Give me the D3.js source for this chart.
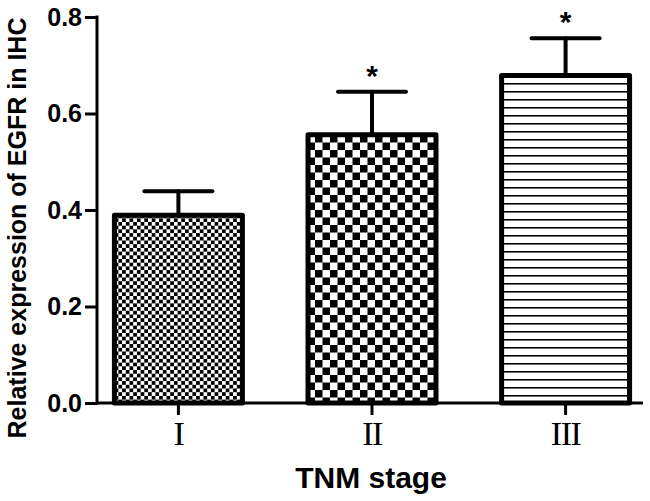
<!DOCTYPE html>
<html>
<head>
<meta charset="utf-8">
<script src="https://cdn.jsdelivr.net/npm/d3@7"></script>
<style>
  body { margin: 0; background: #fff; }
  svg { display: block; }
</style>
</head>
<body>
<div id="chart"></div>
<script>
// Data
const stages = ["I", "II", "III"];
const means = [0.389, 0.556, 0.679];
const errors = [0.050, 0.089, 0.077];
const significant = [false, true, true];
const yTicks = [0.0, 0.2, 0.4, 0.6, 0.8];

const width = 650, height = 501;

const svg = d3.select("#chart")
    .append("svg")
    .attr("width", width)
    .attr("height", height);

const defs = svg.append("defs");

// fine checkerboard (stage I)
const p1 = defs.append("pattern")
    .attr("id", "fineCheck")
    .attr("patternUnits", "userSpaceOnUse")
    .attr("width", 7.4).attr("height", 7.4);
p1.append("rect").attr("width", 7.4).attr("height", 7.4).attr("fill", "#fff");
p1.append("rect").attr("width", 3.7).attr("height", 3.7).attr("fill", "#000");
p1.append("rect").attr("x", 3.7).attr("y", 3.7).attr("width", 3.7).attr("height", 3.7).attr("fill", "#000");

// coarse checkerboard (stage II)
const p2 = defs.append("pattern")
    .attr("id", "coarseCheck")
    .attr("patternUnits", "userSpaceOnUse")
    .attr("width", 15).attr("height", 15);
p2.append("rect").attr("width", 15).attr("height", 15).attr("fill", "#fff");
p2.append("rect").attr("width", 7.5).attr("height", 7.5).attr("fill", "#000");
p2.append("rect").attr("x", 7.5).attr("y", 7.5).attr("width", 7.5).attr("height", 7.5).attr("fill", "#000");

// horizontal lines (stage III)
const p3 = defs.append("pattern")
    .attr("id", "hLines")
    .attr("patternUnits", "userSpaceOnUse")
    .attr("width", 8).attr("height", 8);
p3.append("rect").attr("width", 8).attr("height", 8).attr("fill", "#fff");
p3.append("rect").attr("y", 3).attr("width", 8).attr("height", 1.6).attr("fill", "#000");

const fills = ["url(#fineCheck)", "url(#coarseCheck)", "url(#hLines)"];

// Scales
const x = d3.scaleBand()
    .domain(stages)
    .range([97, 647])
    .paddingInner(0.339)
    .paddingOuter(0.09);

const y = d3.scaleLinear()
    .domain([0, 0.8])
    .range([403, 17]);

// Bars
svg.append("g")
    .selectAll("rect")
    .data(stages)
    .join("rect")
    .attr("x", d => x(d))
    .attr("width", x.bandwidth())
    .attr("y", (d, i) => y(means[i]))
    .attr("height", (d, i) => y(0) - y(means[i]))
    .attr("fill", (d, i) => fills[i])
    .attr("stroke", "#000")
    .attr("stroke-width", 5)
    .attr("stroke-linejoin", "round");

// Error bars
const err = svg.append("g")
    .attr("stroke", "#000")
    .attr("stroke-width", 4)
    .attr("stroke-linecap", "round");

stages.forEach((s, i) => {
    const cx = x(s) + x.bandwidth() / 2;
    err.append("line")
        .attr("x1", cx).attr("x2", cx)
        .attr("y1", y(means[i]) - 2)
        .attr("y2", y(means[i] + errors[i]));
    err.append("line")
        .attr("x1", cx - 34).attr("x2", cx + 34)
        .attr("y1", y(means[i] + errors[i]))
        .attr("y2", y(means[i] + errors[i]));
    if (significant[i]) {
        svg.append("text")
            .attr("x", cx)
            .attr("y", y(means[i] + errors[i]) - 6)
            .attr("text-anchor", "middle")
            .style("font-family", "'Liberation Sans', Arial, sans-serif")
            .style("font-weight", "bold")
            .style("font-size", "30px")
            .text("*");
    }
});

// Y axis
const yAxis = svg.append("g")
    .attr("transform", "translate(97,0)")
    .call(d3.axisLeft(y).tickValues(yTicks).tickFormat(d3.format(".1f")).tickSize(12).tickPadding(3));
yAxis.select(".domain").remove();
yAxis.selectAll(".tick line").attr("stroke", "#000").attr("stroke-width", 3);
yAxis.selectAll(".tick text")
    .attr("fill", "#000")
    .style("font-family", "'Liberation Sans', Arial, sans-serif")
    .style("font-weight", "bold")
    .style("font-size", "25px");

// X axis
const xAxis = svg.append("g")
    .attr("transform", "translate(0,403)")
    .call(d3.axisBottom(x).tickSize(12).tickPadding(6));
xAxis.select(".domain").remove();
xAxis.selectAll(".tick line").attr("stroke", "#000").attr("stroke-width", 3);
xAxis.selectAll(".tick text")
    .attr("fill", "#000")
    .style("font-family", "'Liberation Serif', 'Times New Roman', serif")
    .style("font-size", "34px")
    .style("letter-spacing", "-1.5px");

// Axis lines
svg.append("line")
    .attr("x1", 97).attr("x2", 97)
    .attr("y1", y(0.8) - 1.5).attr("y2", y(0) + 1.5)
    .attr("stroke", "#000").attr("stroke-width", 3);
svg.append("line")
    .attr("x1", 97).attr("x2", 643)
    .attr("y1", y(0)).attr("y2", y(0))
    .attr("stroke", "#000").attr("stroke-width", 3);

// Axis titles
svg.append("text")
    .attr("transform", "translate(26,228) rotate(-90)")
    .attr("text-anchor", "middle")
    .style("font-family", "'Liberation Sans', Arial, sans-serif")
    .style("font-weight", "bold")
    .style("font-size", "25px")
    .text("Relative expression of EGFR in IHC");

svg.append("text")
    .attr("x", 371)
    .attr("y", 488)
    .attr("text-anchor", "middle")
    .style("font-family", "'Liberation Sans', Arial, sans-serif")
    .style("font-weight", "bold")
    .style("font-size", "30px")
    .text("TNM stage");
</script>
</body>
</html>
